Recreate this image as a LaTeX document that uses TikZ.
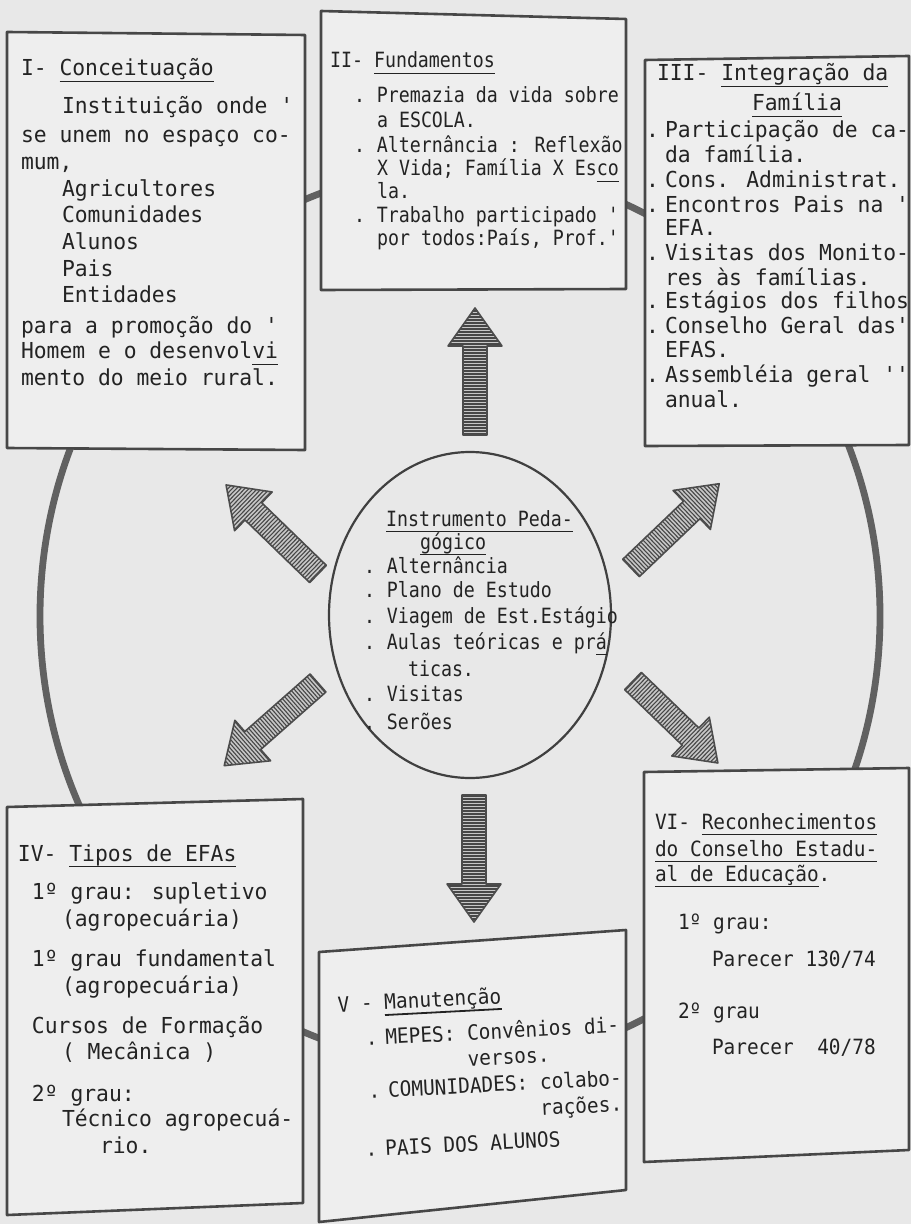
\documentclass[tikz,border=0pt]{standalone}
\usepackage{fontspec}
\newfontfamily\fA[FakeStretch=0.97]{DejaVu Sans Mono}
\newfontfamily\fB[FakeStretch=0.87]{DejaVu Sans Mono}
\newfontfamily\fC[FakeStretch=0.925]{DejaVu Sans Mono}
\definecolor{bgc}{RGB}{232,232,232}
\definecolor{boxfill}{RGB}{238,238,238}
\definecolor{txtc}{RGB}{35,35,35}
\newcommand{\ulx}[1]{\setbox0\hbox{#1}\rlap{\rule[-3.2pt]{\wd0}{0.9pt}}\box0}
\newcommand{\bu}[1]{\llap{.\kern#1}}
\newcommand{\harrow}[3]{%
  \begin{scope}[shift={(#1)},rotate=#2]
    \begin{scope}
      \clip (0,-12) -- ({#3-38},-12) -- ({#3-38},-27) -- (#3,0) -- ({#3-38},27) -- ({#3-38},12) -- (0,12) -- cycle;
      \fill[arrfill] (-2,-30) rectangle ({#3+2},30);
      \foreach \hh in {1,4,...,#3} \draw[hatchline] (\hh,-30) -- (\hh,30);
    \end{scope}
    \draw[arrout] (0,-12) -- ({#3-38},-12) -- ({#3-38},-27) -- (#3,0) -- ({#3-38},27) -- ({#3-38},12) -- (0,12) -- cycle;
  \end{scope}}
\tikzset{
  box/.style={draw=black!72,line width=1.3pt,fill=boxfill,line join=round},
  bigloop/.style={draw=black!62,line width=3.4pt},
  center/.style={draw=black!75,line width=1.1pt},
  arrfill/.style={fill=black!22},
  hatchline/.style={draw=black!72,line width=0.55pt},
  arrout/.style={draw=black!70,line width=0.8pt,line join=round},
  txt/.style={anchor=base west,inner sep=0pt,outer sep=0pt,text=txtc},
  ta/.style={txt,font=\fA\fontsize{11pt}{13pt}\selectfont},
  tb/.style={txt,font=\fB\fontsize{10.5pt}{12pt}\selectfont},
  tc/.style={txt,font=\fC\fontsize{10.5pt}{12pt}\selectfont},
}
\begin{document}
\begin{tikzpicture}[x=0.5pt,y=-0.5pt]
\useasboundingbox (0,0) rectangle (911,1224);
\fill[bgc] (0,0) rectangle (911,1224);

% big surrounding loop
\draw[bigloop] (460,616) ellipse [x radius=210pt, y radius=224pt];

% boxes
\draw[box] (7,32) -- (305,35) -- (305,450) -- (7,448) -- cycle;
\draw[box] (321,11) -- (626,19) -- (626,289) -- (321,290) -- cycle;
\draw[box] (645,60) -- (909,56) -- (909,445) -- (645,446) -- cycle;
\draw[box] (7,807) -- (303,799) -- (303,1203) -- (7,1215) -- cycle;
\draw[box] (319,952) -- (626,930) -- (626,1190) -- (319,1222) -- cycle;
\draw[box] (644,772) -- (909,768) -- (909,1150) -- (644,1162) -- cycle;

% central ellipse
\draw[center] (470,615) ellipse [x radius=70.5pt, y radius=81.5pt];

% hatched block arrows
\coordinate (up-tail) at (475,435);
\coordinate (dn-tail) at (474,795);
\coordinate (ul-tail) at (318,574);
\coordinate (ur-tail) at (631,568);
\coordinate (ll-tail) at (318,683);
\coordinate (lr-tail) at (633,681);
\harrow{up-tail}{90}{127}
\harrow{dn-tail}{-90}{127}
\harrow{ul-tail}{135.9}{128}
\harrow{ur-tail}{43.7}{122}
\harrow{ll-tail}{-138.6}{125}
\harrow{lr-tail}{-44}{118}

% Box I
\node[ta] (b1t) at (21,76) {I- \ulx{Conceituação}};
\node[ta] (b1a) at (62,114) {Instituição onde '};
\node[ta] (b1b) at (21,143) {se unem no espaço co-};
\node[ta] (b1c) at (21,170) {mum,};
\node[ta] (b1d) at (62,197) {Agricultores};
\node[ta] (b1e) at (62,223) {Comunidades};
\node[ta] (b1f) at (62,250) {Alunos};
\node[ta] (b1g) at (62,277) {Pais};
\node[ta] (b1h) at (62,303) {Entidades};
\node[ta] (b1i) at (21,334) {para a promoção do '};
\node[ta] (b1j) at (21,359) {Homem e o desenvol\ulx{vi}};
\node[ta] (b1k) at (21,386) {mento do meio rural.};

% Box II
\node[tb] (b2t) at (330,68) {II- \ulx{Fundamentos}};
\node[tb] (b2a) at (377,103) {\bu{6pt}Premazia da vida sobre};
\node[tb] (b2b) at (377,128) {a ESCOLA.};
\node[tb] (b2c) at (377,153) {\bu{6pt}Alternância : Reflexão};
\node[tb] (b2d) at (377,176) {X Vida; Família X Es\ulx{co}};
\node[tb] (b2e) at (377,199) {la.};
\node[tb] (b2f) at (377,223) {\bu{6pt}Trabalho participado '};
\node[tb] (b2g) at (377,246) {por todos:País, Prof.'};

% Box III
\node[ta] (b3t) at (657,81) {III- \ulx{Integração da}};
\node[ta] (b3u) at (752,111) {\ulx{Família}};
\node[ta] (b3a) at (665,138) {\bu{3pt}Participação de ca-};
\node[ta] (b3b) at (665,163) {da família.};
\node[ta] (b3c) at (665,188) {\bu{3pt}Cons. Administrat.};
\node[ta] (b3d) at (665,213) {\bu{3pt}Encontros Pais na '};
\node[ta] (b3e) at (665,236) {EFA.};
\node[ta] (b3f) at (665,261) {\bu{3pt}Visitas dos Monito-};
\node[ta] (b3g) at (665,286) {res às famílias.};
\node[ta] (b3h) at (665,309) {\bu{3pt}Estágios dos filhos};
\node[ta] (b3i) at (665,334) {\bu{3pt}Conselho Geral das'};
\node[ta] (b3j) at (665,358) {EFAS.};
\node[ta] (b3k) at (665,383) {\bu{3pt}Assembléia geral ''};
\node[ta] (b3l) at (665,408) {anual.};

% Box IV
\node[ta] (b4t) at (18,861) {IV- \ulx{Tipos de EFAs}};
\node[ta] (b4a) at (32,899) {1º grau: supletivo};
\node[ta] (b4b) at (62,926) {(agropecuária)};
\node[ta] (b4c) at (32,966) {1º grau fundamental};
\node[ta] (b4d) at (62,993) {(agropecuária)};
\node[ta] (b4e) at (32,1033) {Cursos de Formação};
\node[ta] (b4f) at (62,1059) {( Mecânica )};
\node[ta] (b4g) at (32,1101) {2º grau:};
\node[ta] (b4h) at (62,1126) {Técnico agropecuá-};
\node[ta] (b4i) at (100,1153) {rio.};

% Box V (typed slightly askew)
\begin{scope}[shift={(338,1012)},rotate=3,transform shape]
\node[tc] (b5t) at (0,0) {V - \ulx{Manutenção}};
\node[tc] (b5a) at (46,35) {\bu{4pt}MEPES: Convênios di-};
\node[tc] (b5b) at (127,61) {versos.};
\node[tc] (b5c) at (46,88) {\bu{4pt}COMUNIDADES: colabo-};
\node[tc] (b5d) at (197,114) {rações.};
\node[tc] (b5e) at (40,146) {\bu{4pt}PAIS DOS ALUNOS};
\end{scope}

% Box VI
\node[tc] (b6t) at (655,829) {VI- \ulx{Reconhecimentos}};
\node[tc] (b6a) at (655,856) {\ulx{do Conselho Estadu-}};
\node[tc] (b6b) at (655,881) {\ulx{al de Educação}.};
\node[tc] (b6c) at (678,929) {1º grau:};
\node[tc] (b6d) at (712,966) {Parecer 130/74};
\node[tc] (b6e) at (678,1018) {2º grau};
\node[tc] (b6f) at (712,1054) {Parecer~~40/78};

% Ellipse text
\node[tb] (ct) at (386,526) {\ulx{Instrumento Peda-}};
\node[tb] (cu) at (420,549) {\ulx{gógico}};
\node[tb] (ca) at (387,573) {\bu{6pt}Alternância};
\node[tb] (cb) at (387,597) {\bu{6pt}Plano de Estudo};
\node[tb] (cc) at (387,623) {\bu{6pt}Viagem de Est.Estágio};
\node[tb] (cd) at (387,649) {\bu{6pt}Aulas teóricas e pr\ulx{á}};
\node[tb] (ce) at (408,676) {ticas.};
\node[tb] (cf) at (387,701) {\bu{6pt}Visitas};
\node[tb] (cg) at (387,729) {\bu{6pt}Serões};
\end{tikzpicture}
\end{document}
